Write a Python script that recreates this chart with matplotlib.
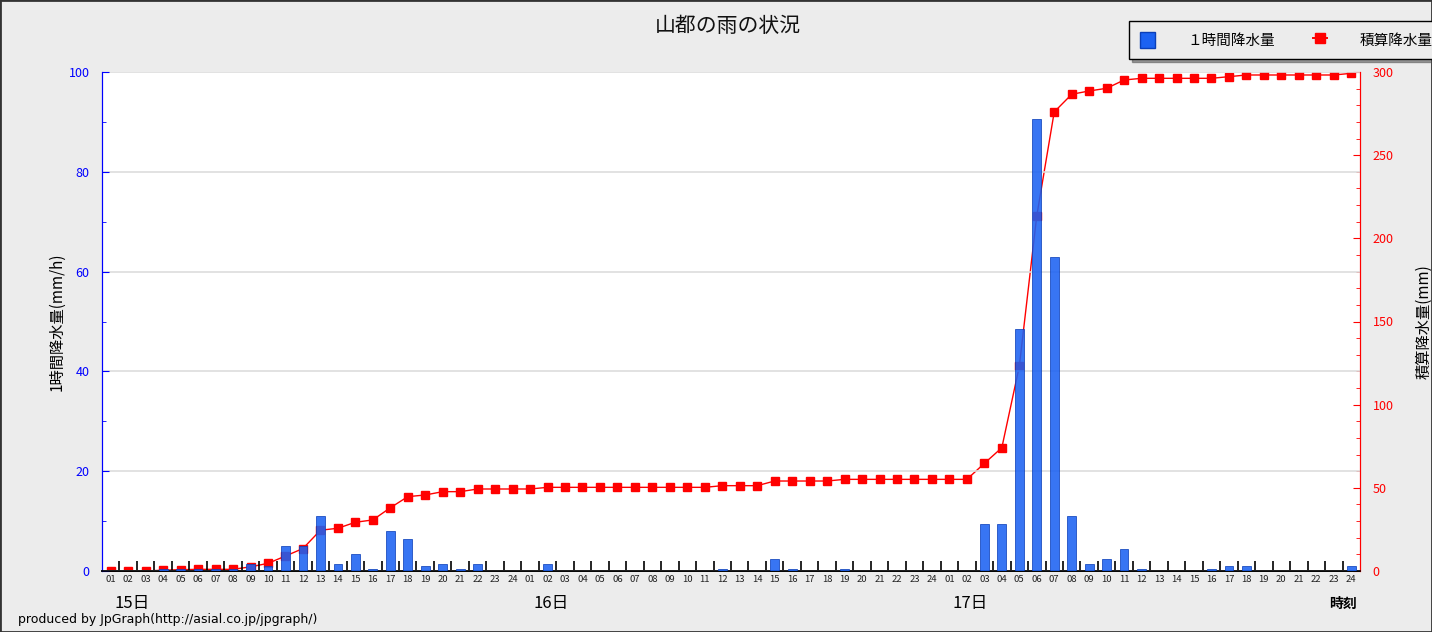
import numpy as np
import matplotlib
matplotlib.use("Agg")
import matplotlib.pyplot as plt
from matplotlib.patches import Rectangle
from matplotlib.lines import Line2D

plt.rcParams['font.family'] = ['Noto Sans CJK JP', 'DejaVu Sans']

# hourly rainfall (mm/h), 15th 01h .. 17th 24h
rain_15 = [0, 0, 0, 0.5, 0.5, 0.5, 0.5, 0.5, 1.5, 1.0, 5.0, 5.0,
           11.0, 1.5, 3.5, 0.5, 8.0, 6.5, 1.0, 1.5, 0.5, 1.5, 0, 0]
rain_16 = [0, 1.5, 0, 0, 0, 0, 0, 0, 0, 0, 0, 0.5,
           0, 0, 2.5, 0.5, 0, 0, 0.5, 0, 0, 0, 0, 0]
rain_17 = [0, 0, 9.5, 9.5, 48.5, 90.5, 63.0, 11.0, 1.5, 2.5, 4.5, 0.5,
           0, 0, 0, 0.5, 1.0, 1.0, 0, 0, 0, 0, 0, 1.0]

# cumulative rainfall (mm)
cum_15 = [0, 0, 0, 0.5, 0.8, 1.0, 1.0, 1.0, 2.5, 4.6, 9.0, 13.5,
          24.5, 25.7, 29.3, 30.7, 38.0, 44.7, 45.7, 47.7, 47.7, 49.3, 49.3, 49.3]
cum_16 = [49.3, 50.3, 50.3, 50.3, 50.3, 50.3, 50.3, 50.3, 50.3, 50.3, 50.3, 51.3,
          51.3, 51.3, 54.1, 54.1, 54.1, 54.1, 55.1, 55.1, 55.1, 55.1, 55.1, 55.1]
cum_17 = [55.1, 55.1, 64.7, 74.1, 123.0, 213.5, 276.0, 286.6, 288.6, 290.2, 295.2, 296.2,
          296.2, 296.2, 296.2, 296.2, 297.2, 298.2, 298.2, 298.2, 298.2, 298.2, 298.2, 299.2]

hour_labels = ["%02d" % h for h in range(1, 25)] * 3
day_labels = ["15日", "16日", "17日"]

rain = np.array(rain_15 + rain_16 + rain_17)
cum = np.array(cum_15 + cum_16 + cum_17)
x = np.arange(len(rain))

bg = "#ECECEC"
fig = plt.figure(figsize=(14.32, 6.32), dpi=100, facecolor=bg)
ax = fig.add_axes([102 / 1432, 1 - 571 / 632, 1258 / 1432, 499 / 632])
ax2 = ax.twinx()

# line axis underneath, bars on top
ax.set_zorder(ax2.get_zorder() + 1)
ax.patch.set_visible(False)
ax2.patch.set_visible(True)
ax2.patch.set_facecolor("white")

ax2.plot(x, cum, color="#FF0000", lw=1.0, marker="s", ms=5.5, mec="#FF0000", mfc="#FF0000")
ax.bar(x, rain, width=0.5, color="#1C62F2", edgecolor="#0B3FB8", lw=0.6, alpha=0.88, zorder=3)

ax.set_xlim(-0.5, len(x) - 0.5)
ax.set_ylim(0, 100)
ax2.set_ylim(0, 300)

# left axis
ax.set_yticks(np.arange(0, 101, 20))
ax.set_yticks(np.arange(0, 101, 10), minor=True)
ax.tick_params(axis="y", which="both", direction="in", colors="#0000FF", labelsize=9, length=5, pad=9)
ax.tick_params(axis="y", which="minor", length=3)
ax.yaxis.grid(True, color="#DDDDDD", lw=1.2, zorder=0)
ax.set_axisbelow(True)
ax.set_ylabel("1時間降水量(mm/h)", fontsize=11, labelpad=2)

# right axis
ax2.set_yticks(np.arange(0, 301, 50))
ax2.set_yticks(np.arange(0, 301, 10), minor=True)
ax2.tick_params(axis="y", which="both", direction="in", colors="#FF0000", labelsize=9, length=5, pad=9)
ax2.tick_params(axis="y", which="minor", length=3)
ax2.set_ylabel("積算降水量(mm)", fontsize=11, rotation=90, labelpad=16)

# x axis: hour labels centered, ticks at boundaries
ax.set_xticks(x)
ax.set_xticklabels(hour_labels, fontsize=6.8, color="#222222")
ax.tick_params(axis="x", which="major", length=0, pad=3)
ax.set_xticks(np.arange(0.5, len(x) - 0.5, 1), minor=True)
ax.tick_params(axis="x", which="minor", direction="in", length=7, width=1.2, color="black")
ax2.tick_params(axis="x", which="both", length=0)

for a in (ax, ax2):
    a.spines["top"].set_visible(False)
    a.spines["left"].set_color("#0000FF")
    a.spines["right"].set_color("#FF0000")
    a.spines["bottom"].set_color("black")
    a.spines["bottom"].set_linewidth(1.2)

for i, d in enumerate(day_labels):
    ax.text(24 * i + 1.2, -0.066, d, transform=ax.get_xaxis_transform(),
            ha="center", va="center", fontsize=12)
ax.text(len(x) - 1.5, -0.066, "時刻", transform=ax.get_xaxis_transform(),
        ha="center", va="center", fontsize=10, fontweight="bold")

fig.text(0.5085, 1 - 26 / 632, "山都の雨の状況", ha="center", va="center", fontsize=15, color="#111111")
fig.text(18 / 1432, 1 - 620 / 632, "produced by JpGraph(http://asial.co.jp/jpgraph/)",
         ha="left", va="center", fontsize=9, family="DejaVu Sans")

handles = [Rectangle((0, 0), 1, 1, facecolor="#1C62F2", edgecolor="#0B3FB8"),
           Line2D([], [], color="#FF0000", marker="s", ms=7, lw=1.4)]
leg = fig.legend(handles, ["１時間降水量", "積算降水量"], loc="upper right",
                 bbox_to_anchor=(1.008, 1 - 21 / 632), ncol=2, fontsize=10.5,
                 frameon=True, fancybox=False, shadow=True, handlelength=1.0,
                 handleheight=1.3, columnspacing=2.6, borderpad=0.75,
                 handletextpad=2.2, borderaxespad=0)
leg.get_frame().set_edgecolor("black")
leg.get_frame().set_facecolor(bg)
leg.get_frame().set_alpha(1)

fig.patches.append(Rectangle((0, 0), 1, 1, transform=fig.transFigure, fill=False,
                             edgecolor="#333333", lw=2))

fig.savefig("out.png", facecolor=bg)
